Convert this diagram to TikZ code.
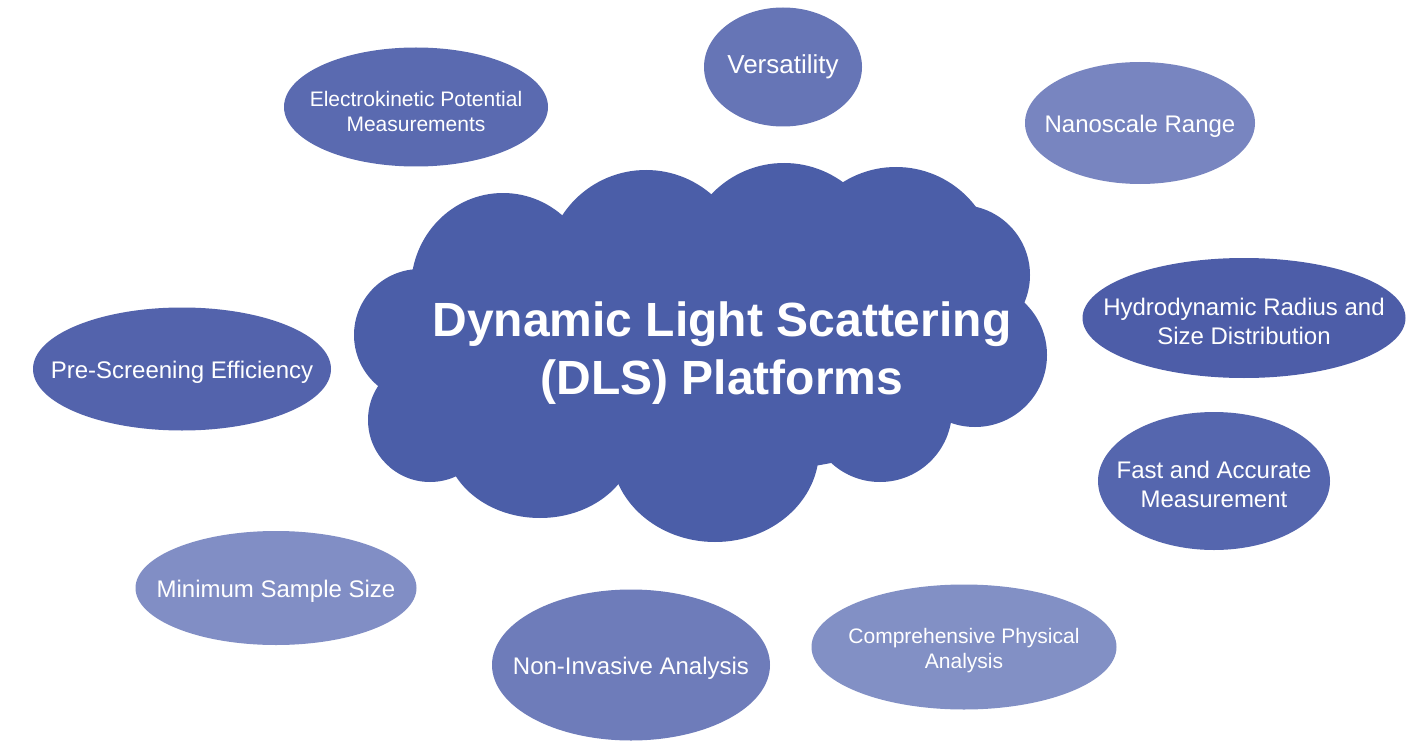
\documentclass[tikz,border=0pt]{standalone}
\usepackage{fontspec}
\setmainfont{Liberation Sans}
\usepackage{tikz}
\usetikzlibrary{shapes.geometric}
\definecolor{cloudblue}{HTML}{4B5EA8}
\tikzstyle{bubble}=[ellipse,inner sep=0pt,draw=none]
\tikzstyle{txt}=[text=white,align=center,inner sep=0pt]
\tikzstyle{small}=[txt,yshift=-4pt,font=\fontsize{21}{25}\selectfont]
\tikzstyle{mid}=[txt,yshift=-3pt,font=\fontsize{24}{29}\selectfont]

\begin{document}
\begin{tikzpicture}[x=1pt,y=-1pt]
\useasboundingbox (0,0) rectangle (1422,749);
\fill[white] (0,0) rectangle (1422,749);
% cloud
\begin{scope}[fill=cloudblue]
\fill (700,355) ellipse [x radius=300pt,y radius=120pt];
\fill (503,288) ellipse [x radius=92pt,y radius=95pt];
\fill (646,270) circle [radius=100pt];
\fill (784,263) circle [radius=100pt];
\fill (896,267) circle [radius=100pt];
\fill (960,275) circle [radius=70pt];
\fill (975,355) circle [radius=72pt];
\fill (880,410) circle [radius=72pt];
\fill (715,450) ellipse [x radius=104pt,y radius=92pt];
\fill (540,440) ellipse [x radius=95pt,y radius=78pt];
\fill (430,420) circle [radius=62pt];
\fill (420,335) circle [radius=66pt];
\end{scope}
\node[txt,yshift=-4pt,font=\bfseries\fontsize{48}{58}\selectfont] (dls) at (722,349) {Dynamic Light Scattering\\(DLS) Platforms};
% bubbles
\node[bubble,fill={rgb,255:red,90;green,106;blue,176},minimum width=264pt,minimum height=119pt] (electro) at (416,107) {};
\node[small] at (electro) {Electrokinetic Potential\\Measurements};
\node[bubble,fill={rgb,255:red,102;green,117;blue,182},minimum width=158pt,minimum height=119pt] (versa) at (783,67) {};
\node[txt,font=\fontsize{26}{30}\selectfont] at (versa) {Versatility};
\node[bubble,fill={rgb,255:red,120;green,133;blue,192},minimum width=230pt,minimum height=122pt] (nano) at (1140,123) {};
\node[mid] at (nano) {Nanoscale Range};
\node[bubble,fill={rgb,255:red,77;green,93;blue,168},minimum width=323pt,minimum height=120pt] (hydro) at (1244,318) {};
\node[mid] at (hydro) {Hydrodynamic Radius and\\Size Distribution};
\node[bubble,fill={rgb,255:red,85;green,102;blue,174},minimum width=232pt,minimum height=138pt] (fast) at (1214,481) {};
\node[mid] at (fast) {Fast and Accurate\\Measurement};
\node[bubble,fill={rgb,255:red,130;green,144;blue,197},minimum width=305pt,minimum height=125pt] (compre) at (964,647) {};
\node[small] at (compre) {Comprehensive Physical\\Analysis};
\node[bubble,fill={rgb,255:red,110;green,124;blue,186},minimum width=278pt,minimum height=151pt] (noninv) at (631,665) {};
\node[mid] at (noninv) {Non-Invasive Analysis};
\node[bubble,fill={rgb,255:red,129;green,142;blue,197},minimum width=281pt,minimum height=114pt] (minim) at (276,588) {};
\node[mid] at (minim) {Minimum Sample Size};
\node[bubble,fill={rgb,255:red,83;green,99;blue,172},minimum width=298pt,minimum height=123pt] (presc) at (182,369) {};
\node[mid] at (presc) {Pre-Screening Efficiency};
\end{tikzpicture}
\end{document}
